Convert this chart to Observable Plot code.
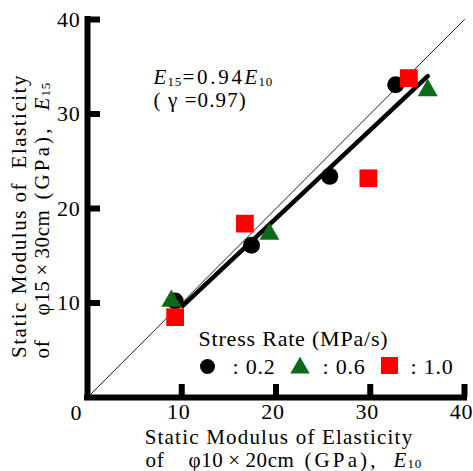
<!DOCTYPE html>
<html>
<head>
<meta charset="utf-8">
<script src="https://cdn.jsdelivr.net/npm/d3@7"></script>
<script src="https://cdn.jsdelivr.net/npm/@observablehq/plot@0.6"></script>
<style>
  html, body { margin: 0; padding: 0; background: #fff; }
</style>
</head>
<body>
<div id="chart"></div>
<script>
// ---- data ----
const xTicks = [10, 20, 30, 40];
const yTicks = [10, 20, 30, 40];
const rate02E10 = [9.3, 17.4, 25.7, 32.7];
const rate02E15 = [10.2, 16.1, 23.4, 33.1];
const rate06E10 = [8.9, 19.3, 36.1];
const rate06E15 = [10.2, 17.3, 32.5];
const rate10E10 = [9.3, 16.7, 29.8, 34.1];
const rate10E15 = [8.5, 18.4, 23.2, 33.8];
const fitE10 = [10.1, 36.1];
const fitE15 = [9.7, 34.0];
const equalE = [0, 40];
const legendRates = ["0.2", "0.6", "1.0"];

// ---- tables ----
const toRows = (xs, ys) => xs.map((x, i) => ({x, y: ys[i]}));
const rate02 = toRows(rate02E10, rate02E15);
const rate06 = toRows(rate06E10, rate06E15);
const rate10 = toRows(rate10E10, rate10E15);
const fitRows = toRows(fitE10, fitE15);
const equalRows = toRows(equalE, equalE);

// ---- layout / style ----
const W = 473, H = 471, ML = 87, MR = 9, MT = 19, MB = 74;
const FW = W - ML - MR, FH = H - MT - MB;
const GREEN = "#0d6a17", RED = "#ff0000";
const serif = "'Liberation Serif', 'Times New Roman', serif";
const T = 21;   // title / annotation font size
const sub = 13; // subscript font size

function txt(str, dx, dy, o = {}) {
  return Plot.text([str], {
    text: d => d, frameAnchor: "top-left", dx, dy,
    textAnchor: "start", lineAnchor: "bottom", fill: "black", ...o
  });
}
const hasAxisMarks = typeof Plot.axisX === "function";

const axisMarks = hasAxisMarks ? [
  Plot.axisX({ticks: xTicks, tickSize: 0, tickPadding: 6, dx: -3, label: null}),
  Plot.axisY({ticks: yTicks, tickSize: 0, tickPadding: 7, label: null})
] : [];

const chart = Plot.plot({
  width: W, height: H,
  marginLeft: ML, marginRight: MR, marginTop: MT, marginBottom: MB,
  style: {fontFamily: serif, fontSize: "22px", letterSpacing: "0.8px", background: "white", color: "black"},
  x: {domain: [0, 40], ticks: xTicks, tickSize: 0, tickPadding: 6, label: null},
  y: {domain: [0, 40], ticks: yTicks, tickSize: 0, tickPadding: 7, label: null},
  marks: [
    ...axisMarks,
    // 1:1 line and regression line
    Plot.line(equalRows, {x: "x", y: "y", stroke: "#222", strokeWidth: 1}),
    Plot.line(fitRows, {x: "x", y: "y", stroke: "black", strokeWidth: 4.5}),
    // data points
    Plot.dot(rate02, {x: "x", y: "y", symbol: "circle", r: 8.5, fill: "black"}),
    Plot.dot(rate06, {x: "x", y: "y", symbol: "triangle", r: 7.4, fill: GREEN}),
    Plot.dot(rate10, {x: "x", y: "y", symbol: "square", r: 10, fill: RED}),
    // axes frame + inward ticks
    Plot.ruleX([0], {y1: 0, y2: 40, strokeWidth: 6, strokeLinecap: "square"}),
    Plot.ruleY([0], {x1: 0, x2: 40, strokeWidth: 6, strokeLinecap: "square"}),
    Plot.tickX(xTicks, {x: d => d, insetTop: FH - 13, strokeWidth: 6}),
    Plot.tickY(yTicks, {y: d => d, insetRight: FW - 13, strokeWidth: 6}),
    // shared zero label
    txt("0", -11, 393.5, {textAnchor: "middle", lineAnchor: "middle"}),
    // equation annotation
    txt("E", 66, 64, {fontStyle: "italic", fontSize: T}),
    txt("15", 80, 66, {fontSize: sub}),
    txt("=0.94", 95, 64, {fontSize: T}),
    txt("E", 157, 64, {fontStyle: "italic", fontSize: T}),
    txt("10", 171, 66, {fontSize: sub}),
    txt("( γ =0.97)", 66, 87.5, {fontSize: T}),
    // legend
    txt("Stress Rate (MPa/s)", 111, 326),
    Plot.dot([legendRates[0]], {frameAnchor: "top-left", dx: 120, dy: 347, symbol: "circle", r: 7.5, fill: "black"}),
    txt(": " + legendRates[0], 145, 354),
    Plot.dot([legendRates[1]], {frameAnchor: "top-left", dx: 212.5, dy: 348.5, symbol: "triangle", r: 7.2, fill: GREEN}),
    txt(": " + legendRates[1], 235, 354),
    Plot.dot([legendRates[2]], {frameAnchor: "top-left", dx: 302, dy: 346, symbol: "square", r: 9.6, fill: RED}),
    txt(": " + legendRates[2], 323, 354),
    // x axis title
    txt("Static Modulus of Elasticity", 191.5, 424.5, {textAnchor: "middle", fontSize: T}),
    txt("of", 58, 447.5, {fontSize: T}),
    txt("φ10\u2009×\u200920cm", 101, 447.5, {fontSize: T}),
    txt("(GPa),", 217, 447.5, {fontSize: T}),
    txt("E", 306, 447.5, {fontStyle: "italic", fontSize: T}),
    txt("10", 320, 448.5, {fontSize: sub}),
    // y axis title (rotated)
    txt("Static Modulus of  Elasticity", -61.5, 196.5, {textAnchor: "middle", rotate: -90, fontSize: T}),
    txt("of", -38.5, 339, {rotate: -90, fontSize: T}),
    txt("φ15\u2009×\u200930cm", -38.5, 296, {rotate: -90, fontSize: T}),
    txt("(GPa),", -38.5, 180, {rotate: -90, fontSize: T}),
    txt("E", -38.5, 91, {rotate: -90, fontStyle: "italic", fontSize: T}),
    txt("15", -37.5, 77, {rotate: -90, fontSize: sub})
  ]
});

// per-text letter spacing to match the wider original typesetting
const spacingFor = new Map([
  ["=0.94", "2.7px"],
  ["( γ =0.97)", "1.1px"],
  ["(GPa),", "3.1px"],
  ["Static Modulus of Elasticity", "1.2px"],
  ["Static Modulus of  Elasticity", "1.5px"],
  ["φ10\u2009×\u200920cm", "0.6px"],
  ["φ15\u2009×\u200930cm", "0.6px"]
]);
chart.querySelectorAll("text").forEach(t => {
  const s = spacingFor.get(t.textContent);
  if (s) t.style.letterSpacing = s;
});
document.getElementById("chart").append(chart);
</script>
</body>
</html>
